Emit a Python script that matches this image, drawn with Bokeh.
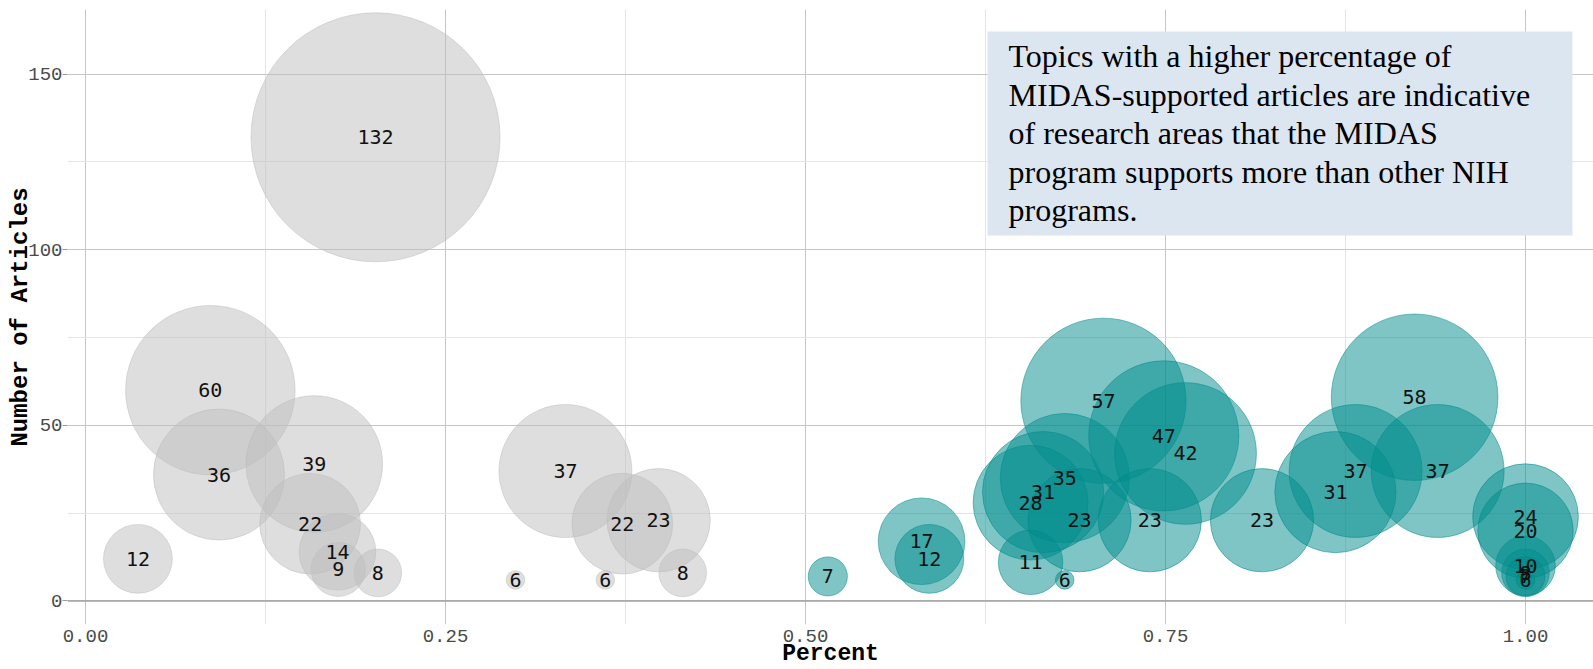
import math
from bokeh.plotting import figure
from bokeh.models import ColumnDataSource, FixedTicker, Range1d, BoxAnnotation, Label, Span
from bokeh.core.properties import value
from bokeh.embed import file_html
from bokeh.resources import INLINE

# ---------------- data ----------------
gray_percent = [0.0364, 0.0867, 0.0927, 0.1560, 0.1589, 0.1750, 0.1755, 0.2014,
                0.2030, 0.2986, 0.3333, 0.3610, 0.3728, 0.3980, 0.4147]
gray_articles = [12, 60, 36, 22, 39, 14, 9, 132, 8, 6, 37, 6, 22, 23, 8]

teal_percent = [0.5155, 0.5806, 0.5860, 0.6563, 0.6563, 0.6650, 0.6801, 0.6800,
                0.6903, 0.7069, 0.7391, 0.7488, 0.7639, 0.8170, 0.8680, 0.8820,
                0.9230, 0.9390, 1.0, 1.0, 1.0, 1.0, 1.0, 1.0]
teal_articles = [7, 17, 12, 28, 11, 31, 35, 6, 23, 57, 23, 47, 42, 23, 31, 37,
                 58, 37, 24, 20, 10, 8, 7, 6]

x_ticks = [0, 0.25, 0.5, 0.75, 1.0]
x_minor = [0.125, 0.375, 0.625, 0.875]
x_tick_labels = ["0.00", "0.25", "0.50", "0.75", "1.00"]
y_ticks = [0, 50, 100, 150]
y_minor = [25, 75, 125]

note_lines = [
    "Topics with a higher percentage of",
    "MIDAS-supported articles are indicative",
    "of research areas that the MIDAS",
    "program supports more than other NIH",
    "programs.",
]

# ---------------- size scale (area-like, as ggplot scale_size) ----------------
all_n = gray_articles + teal_articles
n_min, n_max = min(all_n), max(all_n)
R_MIN, R_MAX = 9.3, 124.5


def diameter(n):
    return 2 * (R_MIN + (R_MAX - R_MIN) * math.sqrt((n - n_min) / (n_max - n_min)))


gray_src = ColumnDataSource(dict(x=gray_percent, y=gray_articles,
                                 s=[diameter(n) for n in gray_articles],
                                 t=[str(n) for n in gray_articles]))
teal_src = ColumnDataSource(dict(x=teal_percent, y=teal_articles,
                                 s=[diameter(n) for n in teal_articles],
                                 t=[str(n) for n in teal_articles]))

W, H = 1593, 669
p = figure(width=W, height=H, output_backend="svg", toolbar_location=None,
           x_range=Range1d(-0.0125, 1.04722), y_range=Range1d(-6.69, 168.37),
           min_border_left=67, min_border_right=0, min_border_top=9,
           min_border_bottom=45)
p.outline_line_color = None
p.background_fill_color = "white"
p.border_fill_color = "white"

# grids
p.xaxis.ticker = FixedTicker(ticks=x_ticks, minor_ticks=x_minor)
p.yaxis.ticker = FixedTicker(ticks=y_ticks, minor_ticks=y_minor)
p.xaxis.major_label_overrides = {t: l for t, l in zip(x_ticks, x_tick_labels)}
for g in (p.xgrid, p.ygrid):
    g.grid_line_color = "#c6c6c6"
    g.grid_line_width = 1
    g.minor_grid_line_color = "#e4e4e4"
    g.minor_grid_line_width = 1

p.add_layout(Span(location=0, dimension="width", line_color="#a0a0a0", line_width=1.3))

# axes
for ax in (p.xaxis, p.yaxis):
    ax.axis_line_color = None
    ax.minor_tick_line_color = None
    ax.major_label_text_font = "Liberation Mono"
    ax.major_label_text_font_size = "19px"
    ax.major_label_text_color = "#4a4a4a"
    ax.axis_label_text_font = "Liberation Mono"
    ax.axis_label_text_font_size = "24px"
    ax.axis_label_text_font_style = "bold"
    ax.axis_label_text_color = "#000000"

p.xaxis.axis_label = "Percent"
p.xaxis.axis_label_text_font_size = "23px"
p.xaxis.major_tick_line_color = None
p.xaxis.major_tick_out = 0
p.xaxis.major_tick_in = 0
p.xaxis.major_label_standoff = 1
p.xaxis.axis_label_standoff = -4

p.yaxis.axis_label = "Number of Articles"
p.yaxis.major_tick_line_color = "#9a9a9a"
p.yaxis.major_tick_out = 5
p.yaxis.major_tick_in = 0
p.yaxis.major_label_standoff = 0
p.yaxis.axis_label_standoff = -9

# bubbles
p.scatter("x", "y", size="s", source=gray_src, fill_color="#bebebe", fill_alpha=0.5,
          line_color="#bebebe", line_alpha=0.5, line_width=1)
p.scatter("x", "y", size="s", source=teal_src, fill_color="#008b8b", fill_alpha=0.5,
          line_color="#008b8b", line_alpha=0.5, line_width=1)

for src in (gray_src, teal_src):
    p.text("x", "y", text="t", source=src, text_font=value("DejaVu Sans Mono"),
           text_font_size="20px", text_align="center", text_baseline="middle",
           text_color="#111111")

# note box
p.add_layout(BoxAnnotation(left=0.6264, right=1.0326, top=162.1, bottom=104.05,
                           fill_color="#dce6f1", fill_alpha=1.0, line_color=None))
y0 = 155.0
step = 10.93
for i, line in enumerate(note_lines):
    p.add_layout(Label(x=0.641, y=y0 - i * step, text=line,
                       text_font="Liberation Serif", text_font_size="32px",
                       text_baseline="middle", text_align="left",
                       text_color="#000000"))

open("out.html", "w").write(file_html(p, INLINE))
